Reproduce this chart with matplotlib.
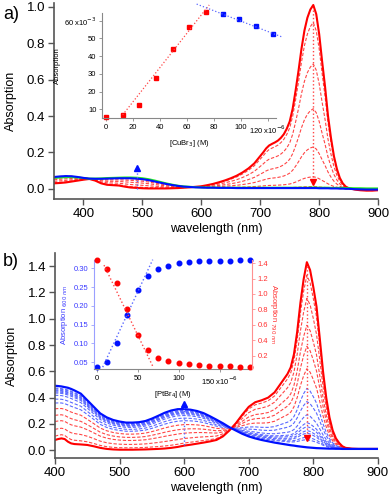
import numpy as np
import matplotlib
matplotlib.use("Agg")
from matplotlib import pyplot as plt

plt.rcParams['font.family'] = ['Liberation Sans', 'DejaVu Sans']

# ---------------- panel a: spectra (CuBr3 titration) ----------------
wl_a = [350, 360, 370, 380, 390, 400, 410, 420, 430, 440, 450, 460, 470, 480, 490,
        500, 510, 520, 530, 540, 550, 560, 570, 580, 590, 600, 610, 620, 630, 640,
        650, 660, 670, 680, 690, 700, 705, 710, 715, 720, 725, 730, 735, 740, 745,
        750, 755, 760, 765, 770, 775, 780, 785, 790, 795, 800, 805, 810, 815, 820,
        825, 830, 835, 840, 845, 850, 860, 870, 880, 890, 900]
start_a = [0.030, 0.032, 0.035, 0.040, 0.045, 0.050, 0.054, 0.045, 0.030, 0.022,
           0.020, 0.018, 0.012, 0.007, 0.005, 0.003, 0.002, 0.002, 0.002, 0.002,
           0.003, 0.004, 0.006, 0.008, 0.011, 0.014, 0.020, 0.027, 0.036, 0.046,
           0.058, 0.072, 0.090, 0.112, 0.140, 0.180, 0.200, 0.222, 0.238, 0.247,
           0.255, 0.265, 0.280, 0.300, 0.330, 0.370, 0.440, 0.540, 0.650, 0.770,
           0.870, 0.940, 0.985, 1.010, 0.960, 0.850, 0.700, 0.560, 0.400, 0.280,
           0.180, 0.110, 0.060, 0.030, 0.012, 0.004, -0.004, -0.008, -0.010, -0.010,
           -0.008]
final_a = [0.065, 0.068, 0.070, 0.069, 0.065, 0.060, 0.056, 0.055, 0.055, 0.056,
           0.057, 0.058, 0.058, 0.058, 0.056, 0.053, 0.048, 0.041, 0.034, 0.027,
           0.021, 0.016, 0.012, 0.010, 0.008, 0.007, 0.006, 0.006, 0.005, 0.005,
           0.005, 0.004, 0.004, 0.004, 0.004, 0.004, 0.004, 0.004, 0.004, 0.004,
           0.004, 0.004, 0.004, 0.004, 0.004, 0.004, 0.004, 0.004, 0.004, 0.004,
           0.004, 0.004, 0.004, 0.004, 0.004, 0.003, 0.003, 0.003, 0.003, 0.002,
           0.002, 0.002, 0.001, 0.001, 0.000, 0.000, -0.002, -0.003, -0.004, -0.004,
           -0.004]
green_a = [0.060, 0.062, 0.064, 0.064, 0.062, 0.059, 0.056, 0.056, 0.057, 0.059,
           0.060, 0.061, 0.062, 0.062, 0.061, 0.058, 0.053, 0.046, 0.038, 0.030,
           0.023, 0.017, 0.013, 0.011, 0.009, 0.008, 0.007, 0.007, 0.006, 0.006,
           0.006, 0.006, 0.006, 0.006, 0.006, 0.006, 0.006, 0.006, 0.006, 0.006,
           0.006, 0.006, 0.006, 0.006, 0.006, 0.006, 0.006, 0.006, 0.006, 0.006,
           0.006, 0.006, 0.007, 0.007, 0.007, 0.006, 0.006, 0.006, 0.006, 0.005,
           0.005, 0.005, 0.005, 0.005, 0.004, 0.004, 0.003, 0.003, 0.002, 0.002,
           0.002]
# peak heights (790 nm) of the intermediate dashed spectra
peaks_a = [0.914, 0.686, 0.44, 0.23, 0.066, 0.012]

# inset a
cu_red = [0, 12.3, 24.7, 37, 49.4, 61.7, 74]
abs_red = [5.5, 6.8, 12.3, 27.8, 43.9, 56.4, 64.9]
cu_blue = [86.4, 98.8, 111, 123.5]
abs_blue = [63.9, 60.7, 57.0, 52.5]
fit_red_a = ([12.3, 76.5], [6.8, 68.9])
fit_blue_a = ([67.2, 130], [69.4, 51.0])

# ---------------- panel b: spectra (PtBr4 titration) ----------------
wl_b = [400, 405, 410, 415, 420, 425, 430, 440, 450, 460, 470, 480, 490, 500, 510,
        520, 530, 540, 550, 560, 570, 580, 590, 600, 610, 620, 630, 640, 650, 660,
        670, 680, 690, 700, 710, 720, 730, 740, 750, 760, 765, 770, 775, 780, 785,
        790, 795, 800, 805, 810, 815, 820, 825, 830, 835, 840, 845, 850, 860, 870,
        880, 890, 900]
start_b = [0.078, 0.085, 0.090, 0.085, 0.065, 0.052, 0.047, 0.044, 0.040, 0.030,
           0.018, 0.010, 0.006, 0.004, 0.004, 0.004, 0.005, 0.006, 0.008, 0.010,
           0.013, 0.018, 0.025, 0.035, 0.042, 0.050, 0.058, 0.067, 0.078, 0.105,
           0.150, 0.205, 0.270, 0.330, 0.365, 0.380, 0.400, 0.440, 0.510, 0.580,
           0.630, 0.730, 0.900, 1.120, 1.300, 1.430, 1.370, 1.240, 1.090, 0.850,
           0.600, 0.400, 0.250, 0.150, 0.090, 0.055, 0.030, 0.018, 0.012, 0.010,
           0.010, 0.010, 0.010]
final_b = [0.490, 0.488, 0.485, 0.480, 0.475, 0.466, 0.455, 0.430, 0.380, 0.330,
           0.280, 0.250, 0.230, 0.218, 0.210, 0.210, 0.213, 0.222, 0.240, 0.262,
           0.285, 0.302, 0.312, 0.313, 0.308, 0.298, 0.282, 0.258, 0.232, 0.205,
           0.175, 0.150, 0.125, 0.105, 0.090, 0.078, 0.068, 0.058, 0.050, 0.042,
           0.038, 0.035, 0.031, 0.028, 0.025, 0.022, 0.020, 0.018, 0.016, 0.015,
           0.014, 0.013, 0.012, 0.012, 0.011, 0.011, 0.010, 0.010, 0.010, 0.010,
           0.010, 0.010, 0.010]
peaks_b = [1.33, 1.155, 0.95, 0.79, 0.62, 0.47, 0.37, 0.27, 0.21, 0.18, 0.15,
           0.13, 0.10, 0.08]

# inset b
pt_conc = [0, 12.5, 25, 37.5, 50, 62.5, 75, 87.5, 100, 112.5, 125, 137.5, 150,
           162.5, 175, 187.5]
abs_600 = [0.037, 0.052, 0.102, 0.175, 0.241, 0.279, 0.298, 0.306, 0.313, 0.318,
           0.319, 0.319, 0.320, 0.320, 0.321, 0.321]
abs_790 = [1.439, 1.33, 1.145, 0.80, 0.467, 0.27, 0.174, 0.131, 0.109, 0.088,
           0.079, 0.070, 0.066, 0.062, 0.057, 0.057]
fit_600 = ([7.3, 68.3], [0.037, 0.323])
fit_790 = ([8.9, 69.0], [1.374, 0.049])

RED = '#ff0000'
RED_D = '#ff4646'
BLUE = '#0010ff'
BLUE_D = '#5a68ff'
GRAY = '#555555'
DASH = (0, (3, 1.6))


def style_main(ax):
    for s in ['top', 'right']:
        ax.spines[s].set_visible(False)
    for s in ['left', 'bottom']:
        ax.spines[s].set_color(GRAY)
        ax.spines[s].set_linewidth(1.2)
    ax.tick_params(direction='out', length=4, width=1, color=GRAY, labelsize=9.5, pad=2.5)
    ax.set_xlabel('wavelength (nm)', fontsize=9, labelpad=2)
    ax.set_ylabel('Absorption', fontsize=9, labelpad=7)


fig = plt.figure(figsize=(3.9, 4.97), dpi=100)

# ---------- panel a ----------
ax = fig.add_axes([0.1385, 0.5996, 0.831, 0.394])
wa = np.array(wl_a)
sa = np.array(start_a)
fa = np.array(final_a)
for h in peaks_a:
    f = (1.010 - h) / (1.010 - 0.004)
    ax.plot(wa, (1 - f) * sa + f * fa, color=RED_D, lw=0.8, ls=DASH)
ax.plot(wa, sa, color=RED, lw=1.5)
ax.plot(wa, green_a, color='#22ee22', lw=1.5)
ax.plot(wa, fa, color=BLUE, lw=1.5)
ax.plot([790, 790], [0.98, 0.04], color=RED_D, lw=1, ls=':')
ax.plot(790, 0.035, marker='v', color=RED, ms=4)
ax.plot([490, 490], [0.0, 0.11], color=BLUE_D, lw=1, ls=':')
ax.plot(490, 0.115, marker='^', color=BLUE, ms=4)
ax.set_xlim(350, 900)
ax.set_ylim(-0.056, 1.02)
ax.set_xticks([400, 500, 600, 700, 800, 900])
ax.set_yticks([0.0, 0.2, 0.4, 0.6, 0.8, 1.0])
style_main(ax)

# inset a
ia = fig.add_axes([0.2615, 0.7626, 0.446, 0.211])
for s in ['top', 'right']:
    ia.spines[s].set_visible(False)
for s in ['left', 'bottom']:
    ia.spines[s].set_color('#888888')
    ia.spines[s].set_linewidth(0.8)
ia.patch.set_alpha(0)
ia.plot(cu_red, abs_red, 's', color=RED, ms=3, clip_on=False)
ia.plot(cu_blue, abs_blue, 's', color=BLUE, ms=3, clip_on=False)
ia.plot(*fit_red_a, color=RED_D, lw=0.9, ls=':', clip_on=False)
ia.plot(*fit_blue_a, color=BLUE_D, lw=0.9, ls=':', clip_on=False)
ia.set_xlim(-3, 126)
ia.set_ylim(5.1, 64.3)
ia.set_xticks([0, 20, 40, 60, 80, 100, 120])
ia.set_xticklabels(['0', '20', '40', '60', '80', '100', '120 x10$^{-6}$'])
ia.set_yticks([10, 20, 30, 40, 50, 60])
ia.set_yticklabels(['10', '20', '30', '40', '50', '60 x10$^{-3}$'])
ia.tick_params(direction='out', length=2.5, width=0.6, color='#888888', labelsize=5.5, pad=1.5)
ia.set_xlabel('[CuBr$_3$] (M)', fontsize=5.5, labelpad=1.5)
ia.set_ylabel('Absorption', fontsize=5.5, labelpad=2)

# ---------- panel b ----------
bx = fig.add_axes([0.141, 0.0785, 0.828, 0.4125])
wb = np.array(wl_b)
sb = np.array(start_b)
fb = np.array(final_b)
for h in peaks_b:
    f = (1.430 - h) / (1.430 - 0.022)
    col = BLUE_D if f > 0.6 else RED_D
    bx.plot(wb, (1 - f) * sb + f * fb, color=col, lw=0.8, ls=DASH)
bx.plot(wb, sb, color=RED, lw=1.5)
bx.plot(wb, fb, color=BLUE, lw=1.6)
bx.plot([790, 790], [1.40, 0.10], color=RED_D, lw=1, ls=':')
bx.plot(790, 0.09, marker='v', color=RED, ms=4)
bx.plot([600, 600], [0.04, 0.33], color=BLUE_D, lw=1, ls=':')
bx.plot(600, 0.35, marker='^', color=BLUE, ms=4)
bx.set_xlim(400, 900)
bx.set_ylim(-0.059, 1.50)
bx.set_xticks([400, 500, 600, 700, 800, 900])
bx.set_yticks([0.0, 0.2, 0.4, 0.6, 0.8, 1.0, 1.2, 1.4])
style_main(bx)

# inset b
ib = fig.add_axes([0.241, 0.2575, 0.4044, 0.2193])
ib.patch.set_alpha(0)
ib.spines['top'].set_visible(False)
ib.spines['right'].set_visible(False)
ib.spines['left'].set_color('#9aa0ff')
ib.spines['bottom'].set_color('#888888')
for s in ['left', 'bottom']:
    ib.spines[s].set_linewidth(0.8)
ib.plot(pt_conc, abs_600, 'o', color=BLUE, ms=3.3, clip_on=False)
ib.plot(*fit_600, color=BLUE_D, lw=1, ls=':', clip_on=False)
ib.set_xlim(-3.3, 189)
ib.set_ylim(0.032, 0.322)
ib.set_xticks([0, 50, 100, 150])
ib.set_xticklabels(['0', '50', '100', '150 x10$^{-6}$'])
ib.set_yticks([0.05, 0.10, 0.15, 0.20, 0.25, 0.30])
ib.set_yticklabels(['0.05', '0.10', '0.15', '0.20', '0.25', '0.30'])
ib.tick_params(axis='y', direction='out', length=2.5, width=0.6, color='#9aa0ff',
               labelcolor='#3a3aff', labelsize=5.5, pad=1.5)
ib.tick_params(axis='x', direction='out', length=2.5, width=0.6, color='#888888',
               labelsize=5.5, pad=1.5)
ib.set_xlabel('[PtBr$_4$] (M)', fontsize=5.5, labelpad=1.5)
ib.set_ylabel('Absorption$_{\\ 600\\ nm}$', fontsize=5.5, color='#3a3aff', labelpad=3)

ir = ib.twinx()
for s in ['top', 'left', 'bottom']:
    ir.spines[s].set_visible(False)
ir.spines['right'].set_color('#ff9090')
ir.spines['right'].set_linewidth(0.8)
ir.plot(pt_conc, abs_790, 'o', color=RED, ms=3.3, clip_on=False)
ir.plot(*fit_790, color=RED_D, lw=1, ls=':', clip_on=False)
ir.set_ylim(0.027, 1.44)
ir.set_yticks([0.2, 0.4, 0.6, 0.8, 1.0, 1.2, 1.4])
ir.tick_params(axis='y', direction='out', length=2.5, width=0.6, color='#ff9090',
               labelcolor='#ff3030', labelsize=5.5, pad=1.5)
ir.set_ylabel('Absorption$_{\\ 790\\ nm}$', fontsize=5.5, color='#ff3030',
              rotation=270, labelpad=8)

fig.text(0.008, 0.97, 'a)', fontsize=13, va='center')
fig.text(0.008, 0.473, 'b)', fontsize=13, va='center')

fig.savefig('out.png', dpi=100)
